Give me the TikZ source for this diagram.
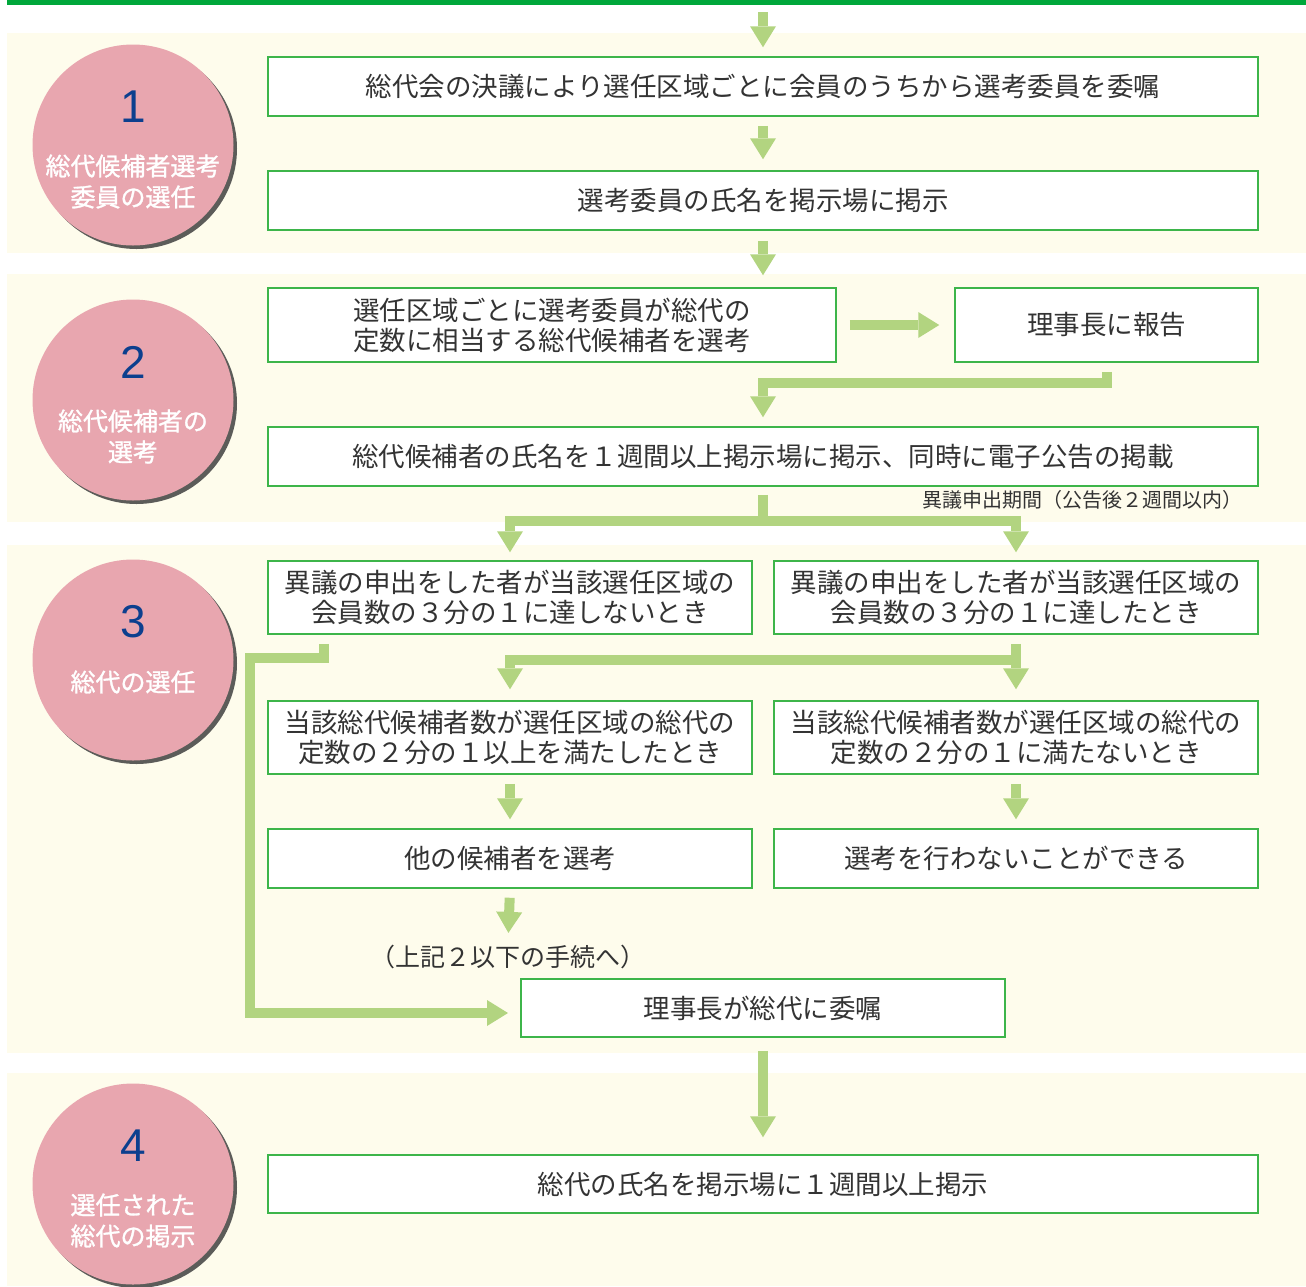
\documentclass[tikz,border=0pt]{standalone}
\usepackage{fontspec}
\setmainfont{Noto Sans CJK JP}
\newfontfamily\numfont{Liberation Sans}
\newfontfamily\circfont[FakeBold=1.2]{Noto Sans CJK JP}
\usetikzlibrary{arrows.meta,calc,shadows}
\definecolor{bandc}{HTML}{FEFCEC}
\definecolor{topg}{HTML}{00A73B}
\definecolor{boxg}{HTML}{3DB54A}
\definecolor{arrc}{HTML}{B2D480}
\definecolor{pinkc}{HTML}{E8A6AF}
\definecolor{numc}{HTML}{0C3F8E}
\definecolor{txt}{HTML}{333333}
\begin{document}
\begin{tikzpicture}[x=1pt,y=-1pt,
  box/.style={draw=boxg,line width=1.5pt,fill=white,text=txt,
    font=\fontsize{26.5}{30}\selectfont,align=center,inner sep=0pt,minimum width=#1},
  stepcircle/.style={circle,fill=pinkc,minimum size=201pt,inner sep=0pt,
    drop shadow={shadow xshift=3.5pt,shadow yshift=-3.5pt,fill=black!75,opacity=.85}},
  numtxt/.style={text=numc,font=\numfont\fontsize{46}{46}\selectfont,inner sep=0pt},
  circtxt/.style={text=white,font=\circfont\fontsize{25}{28}\selectfont,inner sep=0pt},
  notetxt/.style={text=txt,inner sep=0pt},
  arr/.style={draw=arrc,line width=10pt,-{Triangle[width=26pt,length=21pt,line width=0pt]}},
]
\useasboundingbox (0,0) rectangle (1306,1286);
\fill[topg] (7,0) rectangle (1306,5);
\fill[bandc] (7,33) rectangle (1306,253);
\fill[bandc] (7,274) rectangle (1306,522);
\fill[bandc] (7,545) rectangle (1306,1053);
\fill[bandc] (7,1073) rectangle (1306,1286);

% circles
\node[stepcircle] (c1) at (133,145) {};
\node[numtxt] (n1) at ([yshift=38pt]c1.center) {1};
\node[circtxt] (t1a) at ([yshift=-21pt]c1.center) {総代候補者選考};
\node[circtxt] (t1b) at ([yshift=-52pt]c1.center) {委員の選任};

\node[stepcircle] (c2) at (133,400) {};
\node[numtxt] (n2) at ([yshift=38pt]c2.center) {2};
\node[circtxt] (t2a) at ([yshift=-21pt]c2.center) {総代候補者の};
\node[circtxt] (t2b) at ([yshift=-52pt]c2.center) {選考};

\node[stepcircle] (c3) at (133,660) {};
\node[numtxt] (n3) at ([yshift=38pt]c3.center) {3};
\node[circtxt] (t3a) at ([yshift=-22pt]c3.center) {総代の選任};

\node[stepcircle] (c4) at (133,1184) {};
\node[numtxt] (n4) at ([yshift=38pt]c4.center) {4};
\node[circtxt] (t4a) at ([yshift=-21pt]c4.center) {選任された};
\node[circtxt] (t4b) at ([yshift=-52pt]c4.center) {総代の掲示};

% boxes
\node[box=990pt,minimum height=59pt] (b1) at (763,86.5) {総代会の決議により選任区域ごとに会員のうちから選考委員を委嘱};
\node[box=990pt,minimum height=59pt] (b2) at (763,200.5) {選考委員の氏名を掲示場に掲示};
\node[box=568pt,minimum height=74pt] (b3) at (552,325) {選任区域ごとに選考委員が総代の\\定数に相当する総代候補者を選考};
\node[box=303pt,minimum height=74pt] (b4) at (1106.5,325) {理事長に報告};
\node[box=990pt,minimum height=59pt] (b5) at (763,456.5) {総代候補者の氏名を１週間以上掲示場に掲示、同時に電子公告の掲載};
\node[notetxt,anchor=east,font=\fontsize{20}{24}\selectfont] (lab) at (1243,500) {異議申出期間（公告後２週間以内）};
\node[box=484pt,minimum height=73pt] (b6) at (510,597.5) {異議の申出をした者が当該選任区域の\\会員数の３分の１に達しないとき};
\node[box=484pt,minimum height=73pt] (b7) at (1016,597.5) {異議の申出をした者が当該選任区域の\\会員数の３分の１に達したとき};
\node[box=484pt,minimum height=73pt] (b8) at (510,737.5) {当該総代候補者数が選任区域の総代の\\定数の２分の１以上を満たしたとき};
\node[box=484pt,minimum height=73pt] (b9) at (1016,737.5) {当該総代候補者数が選任区域の総代の\\定数の２分の１に満たないとき};
\node[box=484pt,minimum height=59pt] (b10) at (510,858.5) {他の候補者を選考};
\node[box=484pt,minimum height=59pt] (b11) at (1016,858.5) {選考を行わないことができる};
\node[notetxt,font=\fontsize{25}{28}\selectfont] (note) at (508,957) {（上記２以下の手続へ）};
\node[box=484pt,minimum height=58pt] (b12) at (763,1008) {理事長が総代に委嘱};
\node[box=990pt,minimum height=58pt] (b13) at (763,1184) {総代の氏名を掲示場に１週間以上掲示};

% connectors
\coordinate (top) at (763,12);
\coordinate (j2) at (763,521);
\coordinate (j3) at (1016,660);
\coordinate (loopc) at (250,1013);
\coordinate (b12in) at (521,1013);

\draw[arr,shorten >=9pt] (top) -- (b1.north);
\draw[arr,shorten <=9pt,shorten >=11pt] (b1.south) -- (b2.north);
\draw[arr,shorten <=10pt,shorten >=12pt] (b2.south) -- (b2.south |- b3.north);
\draw[arr,shorten <=13pt,shorten >=15pt] (b3.east) -- (b4.west);
\draw[arr,shorten >=9pt] ([yshift=-9pt]b4.south) -- ++(0,11) -| (b2.south |- b5.north);
\draw[arr,shorten >=8pt] ([yshift=-8pt]b5.south) -- (j2) -| (b6.north);
\draw[arr,shorten >=8pt] (j2) -| (b7.north);
\draw[arr,shorten <=9pt,shorten >=11pt] (b7.south) -- (b9.north);
\draw[arr,shorten >=11pt] (j3) -| (b8.north);
\draw[arr,shorten >=13pt] ([xshift=-186pt,yshift=-9pt]b6.south) -- ++(0,14) -| (loopc) -- (b12in);
\draw[arr,shorten <=9pt,shorten >=9pt] (b8.south) -- (b10.north);
\draw[arr,shorten <=9pt,shorten >=9pt] (b9.south) -- (b11.north);
\draw[arr,shorten <=9pt,shorten >=12pt] (b10.south) -- (note.north);
\draw[arr,shorten <=13pt,shorten >=17pt] (b12.south) -- (b13.north);
\end{tikzpicture}
\end{document}
